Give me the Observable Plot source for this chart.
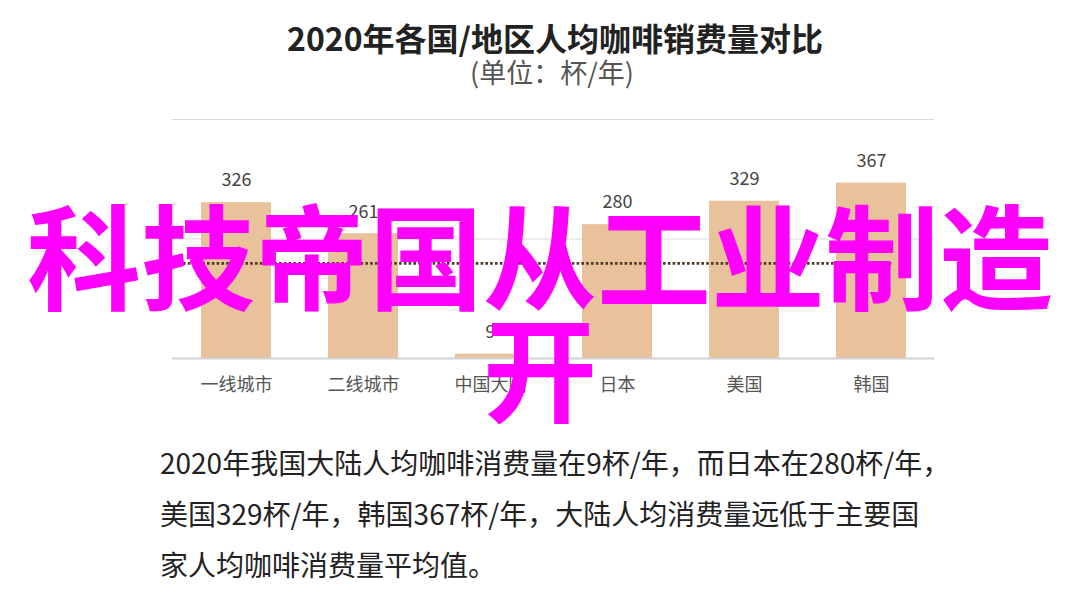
<!DOCTYPE html>
<html>
<head>
<meta charset="utf-8">
<script src="https://cdn.jsdelivr.net/npm/d3@7"></script>
<script src="https://cdn.jsdelivr.net/npm/@observablehq/plot@0.6"></script>
<style>
  html, body { margin: 0; padding: 0; background: #fff; }
  body { width: 1080px; height: 603px; overflow: hidden; position: relative; font-family: "Noto Sans CJK SC", "Noto Sans", sans-serif; }
  #title { position: absolute; left: 0; width: 1110px; top: 15px; text-align: center; font-size: 32px; font-weight: 700; color: #222; line-height: 44px; }
  #subtitle { position: absolute; left: 0; width: 1104px; top: 54px; text-align: center; font-size: 27px; color: #555; line-height: 36px; }
  #chart { position: absolute; left: 0; top: 95px; }
  #caption { position: absolute; left: 160px; top: 437px; width: 820px; font-size: 28px; line-height: 51px; color: #222; white-space: nowrap; }
  #overlay { position: absolute; left: 0; top: 196px; width: 1080px; text-align: center; font-size: 114px; font-weight: 700; line-height: 112px; color: #ff00ff; white-space: nowrap; }
</style>
</head>
<body>
<div id="title">2020年各国/地区人均咖啡销费量对比</div>
<div id="subtitle">(单位：杯/年)</div>
<div id="chart"></div>
<div id="caption">2020年我国大陆人均咖啡消费量在9杯/年，而日本在280杯/年，<br>美国329杯/年，韩国367杯/年，大陆人均消费量远低于主要国<br>家人均咖啡消费量平均值。</div>
<div id="overlay">科技帝国从工业制造<br>开</div>
<script>
const categories = ["一线城市", "二线城市", "中国大陆", "日本", "美国", "韩国"];
const values = [326, 261, 9, 280, 329, 367];
const averageLine = [199];
const gridTicks = [250, 500];
const baseline = [0];

const data = categories.map((c, i) => ({category: c, value: values[i]}));

const chart = Plot.plot({
  width: 1080,
  height: 310,
  marginTop: 24,
  marginBottom: 47,
  marginLeft: 172,
  marginRight: 146,
  style: {fontFamily: "'Noto Sans CJK SC', sans-serif", background: "transparent"},
  x: {domain: categories, paddingInner: 0.45, paddingOuter: 0.225, label: null, tickSize: 0, tickPadding: 20},
  y: {domain: [0, 500], axis: null},
  marks: [
    Plot.ruleY(gridTicks, {stroke: "#d9d9d9", strokeWidth: 1.2}),
    Plot.barY(data, {x: "category", y: "value", fill: "#e9c19b"}),
    Plot.ruleY(baseline, {stroke: "#d2d2d2", strokeWidth: 2}),
    Plot.ruleY(averageLine, {stroke: "#4d3a2a", strokeWidth: 2.6, strokeDasharray: "2.6,2.2", insetLeft: 11, insetRight: 42}),
    Plot.text(data, {x: "category", y: "value", text: d => String(d.value), dy: -22, fontSize: 18, fill: "#444"}),
    Plot.axisX({tickSize: 0, tickPadding: 20, fontSize: 18, color: "#555", label: null})
  ]
});
document.getElementById("chart").appendChild(chart);
</script>
</body>
</html>
